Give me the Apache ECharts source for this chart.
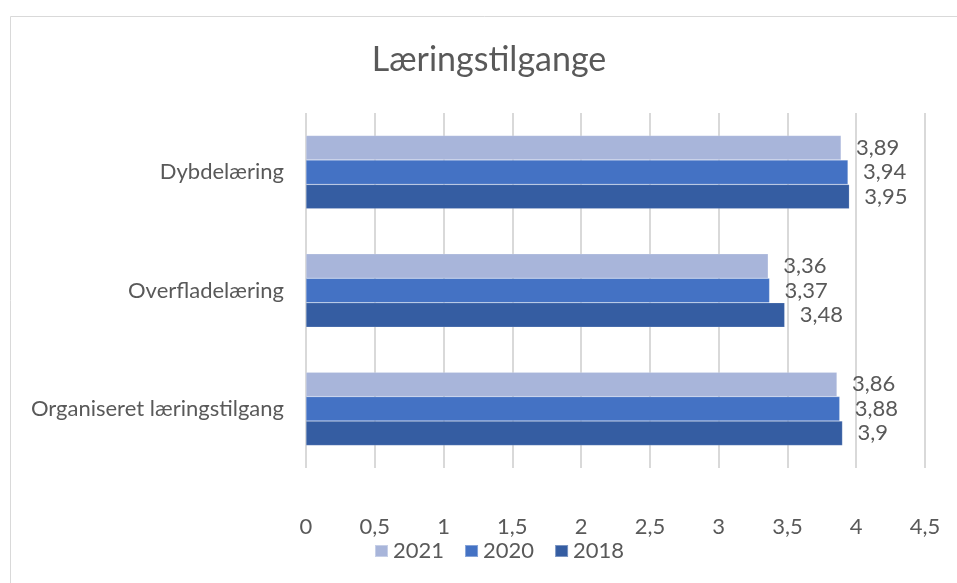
<!DOCTYPE html>
<html><head><meta charset="utf-8">
<script src="https://cdn.jsdelivr.net/npm/echarts@6/dist/echarts.min.js"></script>
<style>html,body{margin:0;padding:0;background:#fff}#c{width:957px;height:583px}</style>
</head><body><div id="c"></div>
<script>
const categories = ['Dybdelæring', 'Overfladelæring', 'Organiseret læringstilgang'];
const seriesNames = ['2021', '2020', '2018'];
const values2021 = [3.89, 3.36, 3.86];
const values2020 = [3.94, 3.37, 3.88];
const values2018 = [3.95, 3.48, 3.9];
const xTicks = [0, 0.5, 1, 1.5, 2, 2.5, 3, 3.5, 4, 4.5];
const colors = ['#A8B5DA', '#4472C4', '#355DA2'];
const allValues = [values2021, values2020, values2018];

const FONT = 'Lato';
const TXT = '#595959';
const FS = 22;
const fmt = v => String(v).replace('.', ',');

const chart = echarts.init(document.getElementById('c'));
chart.setOption({
  animation: false,
  textStyle: { fontFamily: FONT },
  title: {
    text: 'Læringstilgange', left: 484, top: 38, textAlign: 'center',
    textStyle: { fontFamily: FONT, fontSize: 34, fontWeight: 'normal', color: TXT }
  },
  graphic: [{
    type: 'rect', left: 8, top: 14, shape: { width: 980, height: 600 },
    style: { fill: 'none', stroke: '#D9D9D9', lineWidth: 1 }, silent: true, z: -1
  }],
  legend: {
    data: seriesNames, bottom: 16, left: 369, itemWidth: 13, itemHeight: 12, itemGap: 20,
    icon: 'rect',
    textStyle: { fontFamily: FONT, fontSize: FS, color: TXT }
  },
  grid: { left: 306, right: 32, top: 113, height: 355, containLabel: false },
  xAxis: {
    type: 'value', min: 0, max: 4.5, interval: 0.5,
    axisLine: { show: false }, axisTick: { show: false },
    splitLine: { lineStyle: { color: '#D9D9D9', width: 2 } },
    axisLabel: { margin: 48, fontSize: FS, color: TXT, fontFamily: FONT,
      formatter: v => fmt(xTicks.find(t => Math.abs(t - v) < 1e-9) ?? v) }
  },
  yAxis: {
    type: 'category', data: categories, inverse: true,
    axisLine: { show: false }, axisTick: { show: false },
    axisLabel: { margin: 22, fontSize: FS, color: TXT, fontFamily: FONT }
  },
  series: seriesNames.map((name, i) => ({
    name, type: 'bar', data: allValues[i], barGap: '0%', barCategoryGap: '38%',
    itemStyle: { color: colors[i], borderColor: 'rgba(255,255,255,0.35)', borderWidth: 0.5 },
    label: { show: true, position: 'right', distance: 15, fontSize: FS, color: TXT, fontFamily: FONT,
      formatter: p => fmt(p.value) }
  }))
});
</script></body></html>
